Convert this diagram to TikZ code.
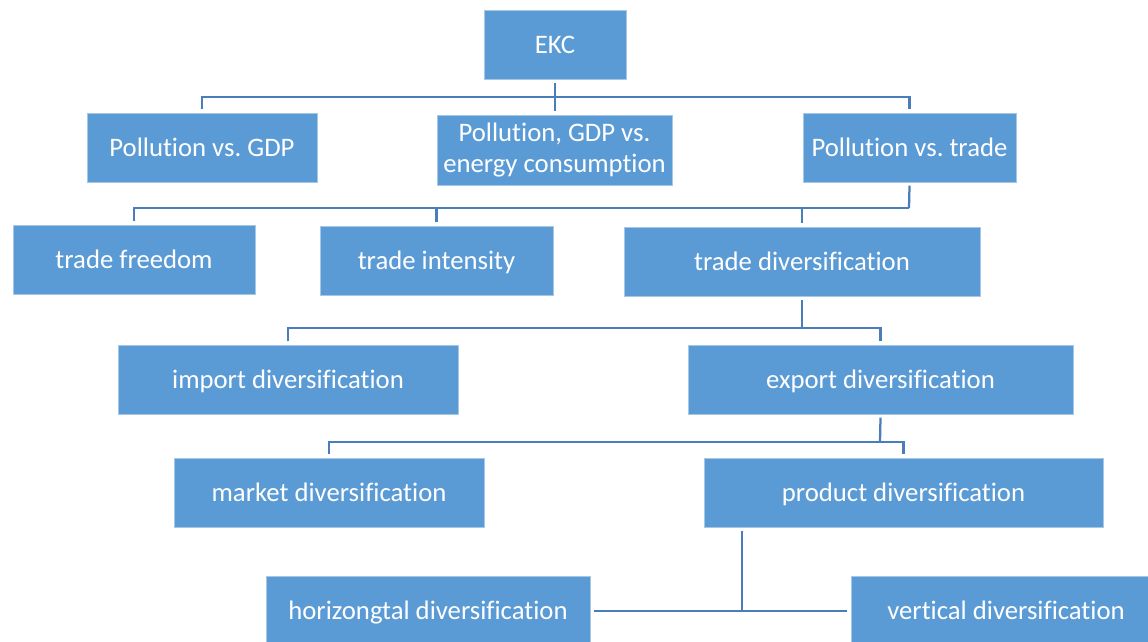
\documentclass[tikz,border=0pt]{standalone}
\usepackage{fontspec}
\setmainfont{Carlito}[Ligatures=NoCommon]
\frenchspacing

\definecolor{boxblue}{HTML}{5B9BD5}
\definecolor{lineblue}{HTML}{4A7EBB}

\tikzset{
  box/.style={draw=boxblue!55!white, line width=0.4pt, fill=boxblue,
    text=white, minimum height=1.725cm, inner sep=0pt, outer sep=2.5pt,
    text height=15pt, text depth=2.4pt,
    align=center, font=\fontsize{19}{22}\selectfont},
  link/.style={draw=lineblue, line width=1.6pt}
}

\begin{document}
\begin{tikzpicture}[x=0.025cm, y=-0.025cm]
	    % Page size
	    \useasboundingbox (0,0) rectangle (1148,641);

	    % Top of the tree
	    \node [box, minimum width=3.55cm]  (ekc)    at (555,44.5)   {EKC};
	    \node [box, minimum width=5.75cm]  (pgdp)   at (202,147.5)  {Pollution vs. GDP};
	    \node [box, minimum width=5.875cm, minimum height=1.75cm, text height=, text depth=]
		(energy) at (554.5,150) {Pollution, GDP vs.\\energy consumption};
	    \node [box, minimum width=5.325cm] (ptrade) at (909.5,147.5) {Pollution vs. trade};

	    % Kinds of trade measures
	    \node [box, minimum width=6.05cm]  (freedom)   at (134,259.5)   {trade freedom};
	    \node [box, minimum width=5.825cm] (intensity) at (436.5,260.5) {trade intensity};
	    \node [box, minimum width=8.9cm]   (tdiv)      at (802,261.5)   {trade diversification};

	    % Diversification branches
	    \node [box, minimum width=8.5cm]   (import)  at (288,379.5)   {import diversification};
	    \node [box, minimum width=9.625cm] (export)  at (880.5,379.5) {export diversification};
	    \node [box, minimum width=7.75cm]  (market)  at (329,492.5)   {market diversification};
	    \node [box, minimum width=9.975cm] (product) at (903.5,492.5) {product diversification};
	    \node [box, minimum width=8.1cm]   (horiz)   at (428,611)     {horizongtal diversification};
	    \node [box, minimum width=7.75cm]  (vert)    at (1006,611)    {vertical diversification};

	    % Junctions of the connectors
	    \coordinate (bus ekc)     at (555,97);
	    \coordinate (bus trade)   at (909,208);
	    \coordinate (bus tdiv)    at (802,328);
	    \coordinate (bus export)  at (880,442);
	    \coordinate (split)       at (742,611);

	    % Draw the connectors
	    \draw [link] (ekc.south) -- (ekc.south |- energy.north);
	    \draw [link] (pgdp.north) |- (bus ekc) -| (ptrade.north);

	    \draw [link] (ptrade.south) -- (bus trade);
	    \draw [link] (freedom.north) |- (bus trade);
	    \draw [link] (intensity.north) -- (intensity.north |- bus trade);
	    \draw [link] (tdiv.north) -- (tdiv.north |- bus trade);

	    \draw [link] (tdiv.south) -- (bus tdiv);
	    \draw [link] (import.north) |- (bus tdiv) -| (export.north);

	    \draw [link] (export.south) -- (bus export);
	    \draw [link] (market.north) |- (bus export) -| (product.north);

	    \draw [link] (split |- product.south) -- (split);
	    \draw [link] (horiz.east) -- (horiz.east -| vert.west);
\end{tikzpicture}
\end{document}
